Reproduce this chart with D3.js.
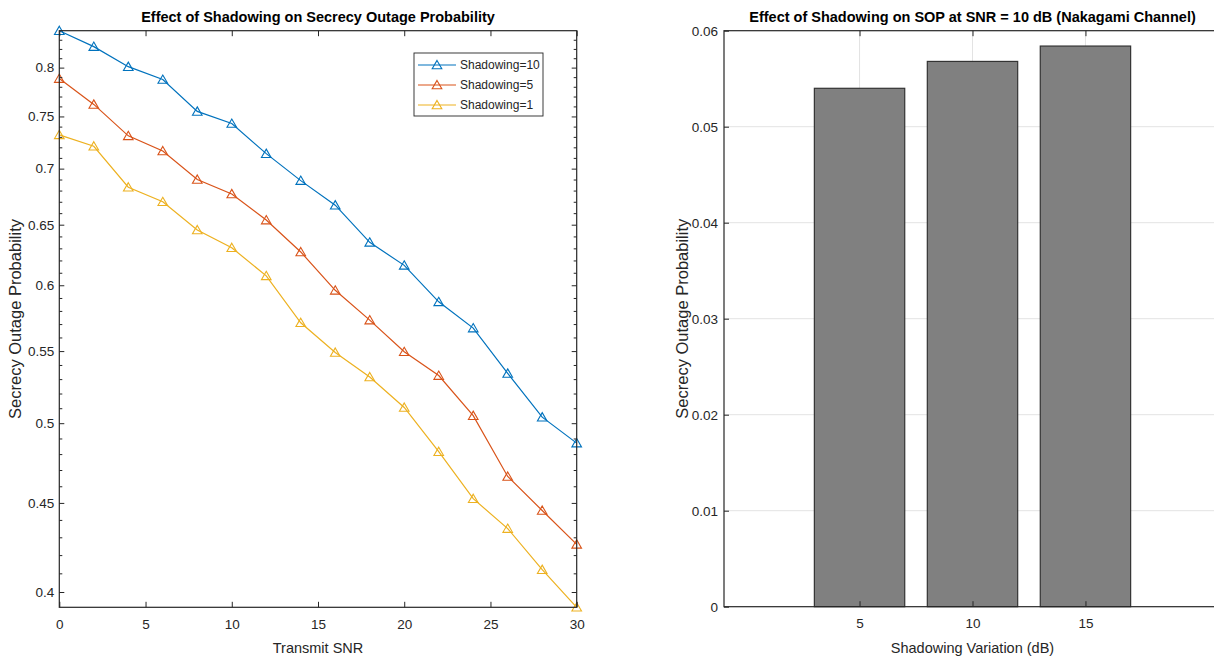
<!DOCTYPE html>
<html>
<head>
<meta charset="utf-8">
<script src="https://cdn.jsdelivr.net/npm/d3@7"></script>
<style>
  body { margin: 0; background: #fff; }
  text { font-family: "Liberation Sans", Arial, Helvetica, sans-serif; fill: #262626; }
</style>
</head>
<body>
<div id="chart"></div>
<script>
// ---- data ----
const snr = [0, 2, 4, 6, 8, 10, 12, 14, 16, 18, 20, 22, 24, 26, 28, 30];
const shadow10 = [0.840, 0.8225, 0.801, 0.7875, 0.755, 0.743, 0.714, 0.689, 0.667, 0.635, 0.616, 0.587, 0.567, 0.534, 0.504, 0.487];
const shadow5  = [0.7885, 0.762, 0.731, 0.7165, 0.690, 0.677, 0.654, 0.627, 0.596, 0.573, 0.5495, 0.5325, 0.505, 0.466, 0.4455, 0.426];
const shadow1  = [0.732, 0.721, 0.683, 0.670, 0.6455, 0.6305, 0.6075, 0.571, 0.549, 0.5315, 0.5105, 0.4815, 0.4525, 0.435, 0.412, 0.392];
const seriesNames = ["Shadowing=10", "Shadowing=5", "Shadowing=1"];
const leftXTicks = [0, 5, 10, 15, 20, 25, 30];
const leftYTicks = [0.4, 0.45, 0.5, 0.55, 0.6, 0.65, 0.7, 0.75, 0.8];
const leftYMinor = [0.41, 0.42, 0.43, 0.44, 0.46, 0.47, 0.48, 0.49, 0.51, 0.52, 0.53, 0.54,
  0.56, 0.57, 0.58, 0.59, 0.61, 0.62, 0.63, 0.64, 0.66, 0.67, 0.68, 0.69, 0.71, 0.72, 0.73, 0.74,
  0.76, 0.77, 0.78, 0.79, 0.81, 0.82, 0.83];

const shadowVar = [5, 10, 15];
const sop = [0.0540, 0.0568, 0.0584];
const rightYTicks = [0, 0.01, 0.02, 0.03, 0.04, 0.05, 0.06];

const COLORS = ["#0072BD", "#D95319", "#EDB120"];
const AXIS = "#262626";
const W = 1214, H = 661;

const svg = d3.select("#chart").append("svg")
  .attr("width", W)
  .attr("height", H);
svg.append("rect").attr("width", W).attr("height", H).attr("fill", "#fff");

drawLinePlot();
drawBarPlot();

function drawLinePlot() {
  const L = { x0: 59.3, x1: 576.7, y0: 30.7, y1: 607.3 };
  const all = shadow10.concat(shadow5, shadow1);

  const x = d3.scaleLinear().domain([0, 30]).range([L.x0, L.x1]);
  const y = d3.scaleLog().domain(d3.extent(all)).range([L.y1, L.y0]);

  const g = svg.append("g");

  // lines + markers
  const series = [shadow10, shadow5, shadow1];
  const line = d3.line().x((d, i) => x(snr[i])).y(d => y(d));
  const tri = d3.symbol(d3.symbolTriangle, 40);

  series.forEach((vals, k) => {
    g.append("path")
      .datum(vals)
      .attr("d", line)
      .attr("fill", "none")
      .attr("stroke", COLORS[k])
      .attr("stroke-width", 1.2);
    g.selectAll(".m" + k)
      .data(vals)
      .enter()
      .append("path")
      .attr("d", tri)
      .attr("transform", (d, i) => `translate(${x(snr[i])},${y(d) + 1})`)
      .attr("fill", "none")
      .attr("stroke", COLORS[k])
      .attr("stroke-width", 1.1);
  });

  // axes (ticks drawn inward, MATLAB style)
  const axes = [
    [d3.axisBottom(x).tickValues(leftXTicks).tickSizeInner(-5.5).tickPadding(12), `translate(0,${L.y1})`, true],
    [d3.axisTop(x).tickValues(leftXTicks).tickSizeInner(-5.5), `translate(0,${L.y0})`, false],
    [d3.axisLeft(y).tickValues(leftYTicks).tickSizeInner(-5).tickPadding(5).tickFormat(d => String(d)), `translate(${L.x0},0)`, true],
    [d3.axisRight(y).tickValues(leftYTicks).tickSizeInner(-5), `translate(${L.x1},0)`, false]
  ];
  axes.forEach(([ax, tr, labels]) => {
    const a = g.append("g").attr("transform", tr).call(ax.tickSizeOuter(0));
    styleAxis(a, labels);
  });

  // minor ticks on log axis
  const minorL = g.append("g").attr("transform", `translate(${L.x0},0)`)
    .call(d3.axisLeft(y).tickValues(leftYMinor).tickSizeInner(-3).tickSizeOuter(0).tickFormat(""));
  const minorR = g.append("g").attr("transform", `translate(${L.x1},0)`)
    .call(d3.axisRight(y).tickValues(leftYMinor).tickSizeInner(-3).tickSizeOuter(0).tickFormat(""));
  [minorL, minorR].forEach(a => styleAxis(a, false));

  // box
  g.append("rect")
    .attr("x", L.x0).attr("y", L.y0)
    .attr("width", L.x1 - L.x0).attr("height", L.y1 - L.y0)
    .attr("fill", "none").attr("stroke", AXIS).attr("stroke-width", 1.2);

  // legend
  const leg = g.append("g").attr("transform", "translate(414,53)");
  leg.append("rect")
    .attr("width", 129).attr("height", 63)
    .attr("fill", "#fff").attr("stroke", AXIS).attr("stroke-width", 0.9);
  seriesNames.forEach((name, k) => {
    const row = leg.append("g").attr("transform", `translate(0,${12 + k * 20})`);
    row.append("line").attr("x1", 4).attr("x2", 42)
      .attr("stroke", COLORS[k]).attr("stroke-width", 1.2);
    row.append("path").attr("d", tri).attr("transform", "translate(23,1)")
      .attr("fill", "none").attr("stroke", COLORS[k]).attr("stroke-width", 1.1);
    row.append("text").attr("x", 46).attr("dy", "0.35em")
      .style("font-size", "12px").text(name);
  });

  // titles
  const cx = (L.x0 + L.x1) / 2;
  svg.append("text").attr("x", cx).attr("y", 21.5).attr("text-anchor", "middle")
    .style("font-size", "14.5px").style("font-weight", "bold").style("fill", "#000")
    .text("Effect of Shadowing on Secrecy Outage Probability");
  svg.append("text").attr("x", cx).attr("y", 653).attr("text-anchor", "middle")
    .style("font-size", "14.5px").text("Transmit SNR");
  svg.append("text")
    .attr("transform", `translate(21,${(L.y0 + L.y1) / 2}) rotate(-90)`)
    .attr("text-anchor", "middle")
    .style("font-size", "16.5px").text("Secrecy Outage Probability");
}

function drawBarPlot() {
  const R = { x0: 724, x1: 1221, y0: 30.7, y1: 606.7 };

  const x = d3.scaleLinear().domain([-1, 21]).range([R.x0, R.x1]);
  const y = d3.scaleLinear().domain([0, 0.06]).range([R.y1, R.y0]);
  const barW = x(4) - x(0);   // MATLAB default bar width 0.8 * spacing

  const g = svg.append("g");

  // grid
  g.append("g").selectAll("line").data(rightYTicks.slice(1, -1)).enter().append("line")
    .attr("x1", R.x0).attr("x2", R.x1)
    .attr("y1", d => y(d)).attr("y2", d => y(d))
    .attr("stroke", "#e3e3e3").attr("stroke-width", 1);
  g.append("g").selectAll("line").data(shadowVar).enter().append("line")
    .attr("x1", d => x(d)).attr("x2", d => x(d))
    .attr("y1", R.y0).attr("y2", R.y1)
    .attr("stroke", "#e3e3e3").attr("stroke-width", 1);

  // bars
  g.selectAll(".bar")
    .data(sop)
    .enter()
    .append("rect")
    .attr("class", "bar")
    .attr("x", (d, i) => x(shadowVar[i]) - barW / 2)
    .attr("y", d => y(d))
    .attr("width", barW)
    .attr("height", d => R.y1 - y(d))
    .attr("fill", "#808080")
    .attr("stroke", "#333")
    .attr("stroke-width", 1.2);

  const axes = [
    [d3.axisBottom(x).tickValues(shadowVar).tickSizeInner(-5.5).tickPadding(12), `translate(0,${R.y1})`, true],
    [d3.axisTop(x).tickValues(shadowVar).tickSizeInner(-5.5), `translate(0,${R.y0})`, false],
    [d3.axisLeft(y).tickValues(rightYTicks).tickSizeInner(-5).tickPadding(6).tickFormat(d => String(d)), `translate(${R.x0},0)`, true]
  ];
  axes.forEach(([ax, tr, labels]) => {
    const a = g.append("g").attr("transform", tr).call(ax.tickSizeOuter(0));
    styleAxis(a, labels);
  });

  g.append("rect")
    .attr("x", R.x0).attr("y", R.y0)
    .attr("width", R.x1 - R.x0).attr("height", R.y1 - R.y0)
    .attr("fill", "none").attr("stroke", AXIS).attr("stroke-width", 1.2);

  const cx = (R.x0 + R.x1) / 2;
  svg.append("text").attr("x", cx).attr("y", 21.5).attr("text-anchor", "middle")
    .style("font-size", "14.5px").style("font-weight", "bold").style("fill", "#000")
    .text("Effect of Shadowing on SOP at SNR = 10 dB (Nakagami Channel)");
  svg.append("text").attr("x", cx).attr("y", 653).attr("text-anchor", "middle")
    .style("font-size", "14.5px").text("Shadowing Variation (dB)");
  svg.append("text")
    .attr("transform", `translate(688,${(R.y0 + R.y1) / 2}) rotate(-90)`)
    .attr("text-anchor", "middle")
    .style("font-size", "16.5px").text("Secrecy Outage Probability");
}

function styleAxis(a, labels) {
  a.select(".domain").remove();
  a.selectAll(".tick line").attr("stroke", AXIS).attr("stroke-width", 1);
  if (labels) {
    a.selectAll(".tick text")
      .style("font-size", "13.5px")
      .style("font-family", "'Liberation Sans', Arial, sans-serif")
      .attr("fill", AXIS);
  } else {
    a.selectAll(".tick text").remove();
  }
}
</script>
</body>
</html>
